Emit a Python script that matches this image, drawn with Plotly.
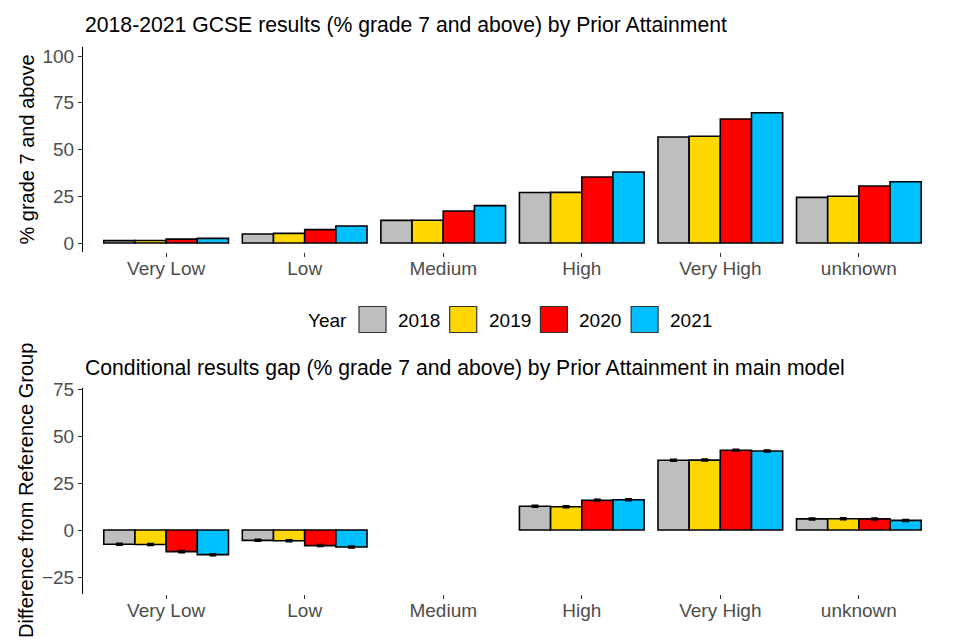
import plotly.graph_objects as go

categories = ["Very Low", "Low", "Medium", "High", "Very High", "unknown"]
years = ["2018", "2019", "2020", "2021"]
colors = ["#BEBEBE", "#FFD700", "#FF0000", "#00BFFF"]

# Top panel: % grade 7 and above
results = {
    "2018": [1.3, 4.8, 12.1, 27.0, 56.7, 24.4],
    "2019": [1.4, 5.2, 12.2, 27.1, 57.1, 25.0],
    "2020": [2.1, 7.2, 17.1, 35.3, 66.3, 30.5],
    "2021": [2.5, 9.1, 20.0, 38.0, 69.7, 32.8],
}

# Bottom panel: conditional gap vs reference group (Medium)
gap = {
    "2018": [-7.6, -5.5, None, 12.6, 37.1, 5.9],
    "2019": [-7.7, -5.7, None, 12.4, 37.2, 6.0],
    "2020": [-11.5, -8.3, None, 15.8, 42.4, 5.9],
    "2021": [-13.1, -9.0, None, 16.1, 42.0, 5.1],
}
gap_err = {
    "2018": [0.4, 0.4, None, 0.4, 0.4, 0.4],
    "2019": [0.4, 0.4, None, 0.4, 0.4, 0.4],
    "2020": [0.4, 0.4, None, 0.4, 0.4, 0.4],
    "2021": [0.4, 0.4, None, 0.4, 0.4, 0.4],
}

W, H = 960, 640
FONT = "Liberation Sans, Arial, sans-serif"
TICK_COLOR = "#4D4D4D"

def px_x(p):
    return p / W

def px_y(p):
    return 1 - p / H

fig = go.Figure()

for yr, col in zip(years, colors):
    fig.add_trace(go.Bar(
        x=categories, y=results[yr], name=yr,
        marker=dict(color=col, line=dict(color="black", width=1.6)),
        xaxis="x", yaxis="y", showlegend=False,
    ))
    fig.add_trace(go.Bar(
        x=categories, y=gap[yr], name=yr,
        marker=dict(color=col, line=dict(color="black", width=1.6)),
        error_y=dict(type="data", array=gap_err[yr], color="black", thickness=2, width=3.5),
        xaxis="x2", yaxis="y2", showlegend=False,
    ))

xdom = [px_x(83), px_x(942)]
common_x = dict(
    domain=xdom, range=[-0.6, 5.6], type="category",
    categoryorder="array", categoryarray=categories,
    showline=False, showgrid=False, zeroline=False, automargin=False,
    ticks="outside", ticklen=4, tickwidth=1, tickcolor="#333333",
    ticklabelstandoff=-5,
    tickfont=dict(family=FONT, size=19, color=TICK_COLOR),
)
common_y = dict(
    showline=True, linecolor="black", linewidth=1,
    showgrid=False, zeroline=False, automargin=False,
    ticks="outside", ticklen=4, tickwidth=1, tickcolor="#333333",
    tickfont=dict(family=FONT, size=19, color=TICK_COLOR),
)

fig.update_layout(
    width=W, height=H,
    margin=dict(l=0, r=0, t=0, b=0, pad=0, autoexpand=False),
    paper_bgcolor="white", plot_bgcolor="white",
    barmode="group", bargap=0.1, bargroupgap=0,
    font=dict(family=FONT, color="black"),
    xaxis=dict(common_x, anchor="y"),
    xaxis2=dict(common_x, anchor="y2"),
    yaxis=dict(common_y, domain=[px_y(252.4), px_y(46.7)], range=[-5, 105],
               tickvals=[0, 25, 50, 75, 100], anchor="x"),
    yaxis2=dict(common_y, domain=[px_y(594.3), px_y(387.7)], range=[-34.2, 75.7],
                tickvals=[-25, 0, 25, 50, 75], anchor="x2"),
)

annotations = [
    dict(text="2018-2021 GCSE results (% grade 7 and above) by Prior Attainment",
         x=px_x(83), y=px_y(25), xref="paper", yref="paper",
         xanchor="left", yanchor="middle", showarrow=False,
         font=dict(family=FONT, size=21.2, color="black")),
    dict(text="Conditional results gap (% grade 7 and above) by Prior Attainment in main model",
         x=px_x(83), y=px_y(368), xref="paper", yref="paper",
         xanchor="left", yanchor="middle", showarrow=False,
         font=dict(family=FONT, size=21.2, color="black")),
    dict(text="% grade 7 and above", textangle=-90,
         x=px_x(26), y=px_y(149.5), xref="paper", yref="paper",
         xanchor="center", yanchor="middle", showarrow=False,
         font=dict(family=FONT, size=20, color="black")),
    dict(text="Difference from Reference Group", textangle=-90,
         x=px_x(26), y=px_y(491), xref="paper", yref="paper",
         xanchor="center", yanchor="middle", showarrow=False,
         font=dict(family=FONT, size=20, color="black")),
    dict(text="Year", x=px_x(349), y=px_y(320), xref="paper", yref="paper",
         xanchor="right", yanchor="middle", showarrow=False,
         font=dict(family=FONT, size=19, color="black")),
]

shapes = []
key_x0, key_step, key_w = 359, 90.7, 27
key_y0, key_y1 = 306.5, 332.5
for i, (yr, col) in enumerate(zip(years, colors)):
    x0 = key_x0 + i * key_step
    shapes.append(dict(type="rect", xref="paper", yref="paper",
                       x0=px_x(x0), x1=px_x(x0 + key_w),
                       y0=px_y(key_y1), y1=px_y(key_y0),
                       fillcolor=col, line=dict(color="#333333", width=1.2)))
    annotations.append(dict(text=yr, x=px_x(x0 + key_w + 10), y=px_y(320),
                            xref="paper", yref="paper", xanchor="left", yanchor="middle",
                            showarrow=False, font=dict(family=FONT, size=19, color="black")))

fig.update_layout(annotations=annotations, shapes=shapes)
fig.write_html("out.html",
               config={"displayModeBar": False},
               post_script="document.body.style.margin='0px';document.body.style.overflow='hidden';")
